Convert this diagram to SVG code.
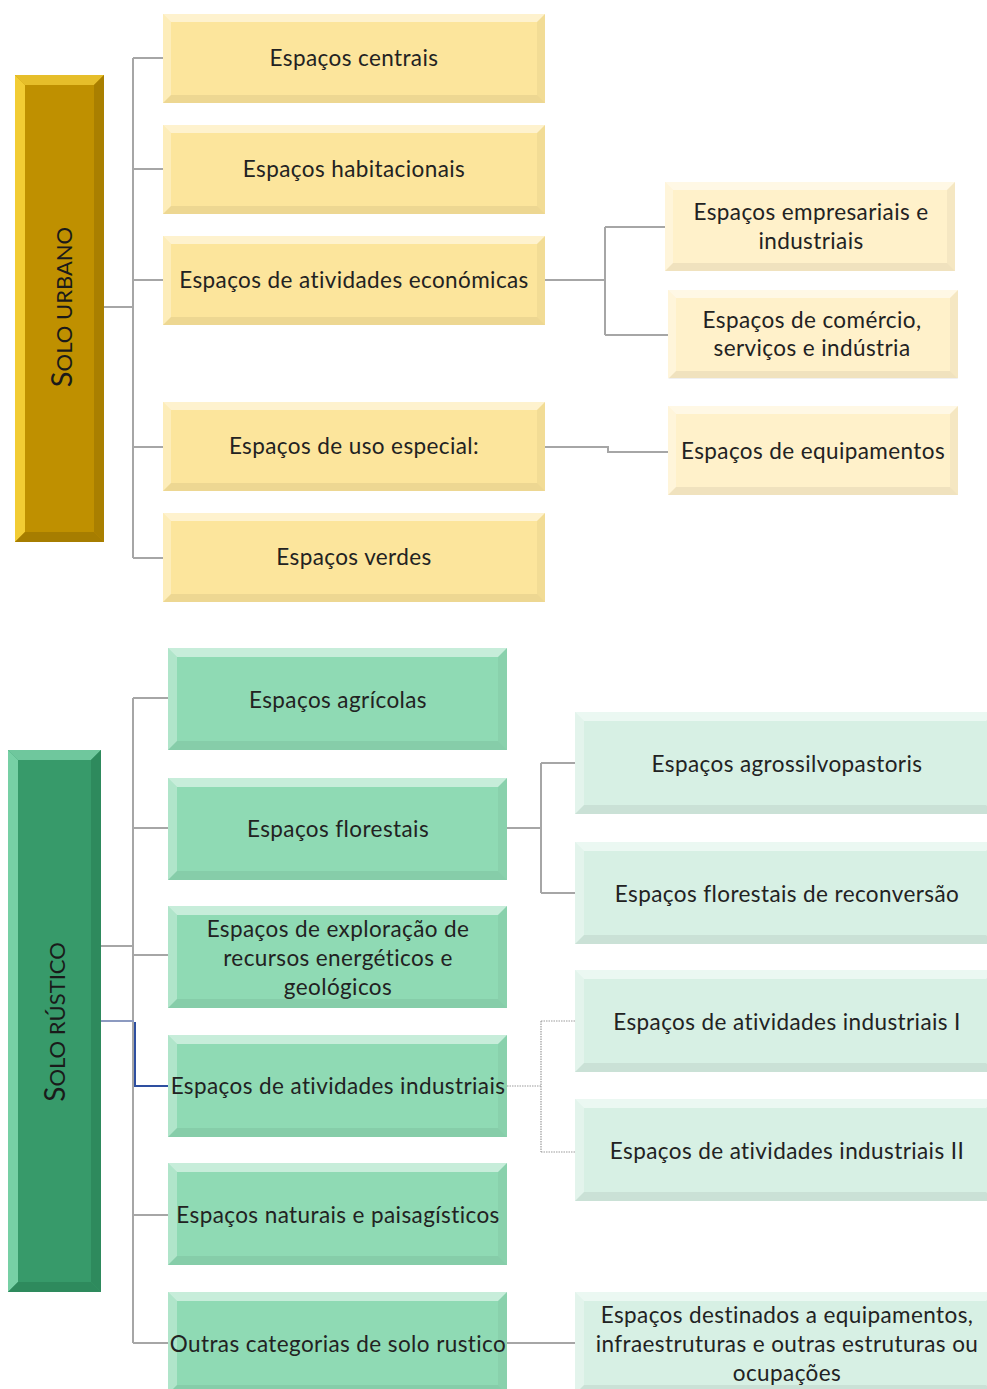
<svg xmlns="http://www.w3.org/2000/svg" xmlns:xlink="http://www.w3.org/1999/xlink" width="987" height="1389" viewBox="0 0 987 1389">
  <style>
    text { font-family: Lato, "Open Sans", "Liberation Sans", sans-serif; font-size: 22.5px; letter-spacing: 0.4px; fill: #222; text-anchor: middle; }
    .solo { font-size: 22px; letter-spacing: 0; fill: #1a1a1a; }
    .fy { fill: #FCE59C; }
    .fpy { fill: #FFF1CA; }
    .fg { fill: #8FDAB4; }
    .fpg { fill: #D7F0E4; }
    .fsu { fill: #BF9000; }
    .fsr { fill: #379A6A; }
    .bt { fill: #ffffff; opacity: 0.5; }
    .bl { fill: #ffffff; opacity: 0.3; }
    .br { fill: #000000; opacity: 0.04; }
    .bb { fill: #000000; opacity: 0.06; }
    .su-t { fill: #E6BE2A; } .su-l { fill: #F2CC34; } .su-r { fill: #A97F00; } .su-b { fill: #A67D00; }
    .sr-t { fill: #6FC79D; } .sr-l { fill: #77D0A5; } .sr-r { fill: #2E8A5D; } .sr-b { fill: #2E8A5D; }
    .c { fill: none; stroke: #A6A6A6; stroke-width: 2; }
    .d { fill: none; stroke: #9C9C9C; stroke-width: 1.2; stroke-dasharray: 1.5 1; }
    .blue { fill: none; stroke: #2E4FA0; stroke-width: 2; }
  </style>
  <defs>
    <!-- bevel overlays for each box size -->
    <g id="bevY">
      <polygon class="bt" points="0,0 382,0 374,8 8,8"/>
      <polygon class="bl" points="0,0 8,8 8,81 0,89"/>
      <polygon class="br" points="382,0 382,89 374,81 374,8"/>
      <polygon class="bb" points="0,89 8,81 374,81 382,89"/>
    </g>
    <g id="bevPY">
      <polygon class="bt" points="0,0 290,0 282,8 8,8"/>
      <polygon class="bl" points="0,0 8,8 8,81 0,89"/>
      <polygon class="br" points="290,0 290,89 282,81 282,8"/>
      <polygon class="bb" points="0,89 8,81 282,81 290,89"/>
    </g>
    <g id="bevG">
      <polygon class="bt" points="0,0 339,0 330,9 9,9"/>
      <polygon class="bl" points="0,0 9,9 9,93 0,102"/>
      <polygon class="br" points="339,0 339,102 330,93 330,9"/>
      <polygon class="bb" points="0,102 9,93 330,93 339,102"/>
    </g>
    <g id="bevPG">
      <polygon class="bt" points="0,0 420,0 411,9 9,9"/>
      <polygon class="bl" points="0,0 9,9 9,93 0,102"/>
      <polygon class="bb" points="0,102 9,93 411,93 420,102"/>
    </g>
  </defs>

  <!-- connectors -->
  <g id="connectors">
    <path class="c" d="M104,307 H133 M133,58 V558 M133,58 H163 M133,169 H163 M133,280 H163 M133,447 H163 M133,558 H163"/>
    <path class="c" d="M545,280 H605 M605,227 V335 M605,227 H665 M605,335 H668"/>
    <path class="c" d="M545,447 H608 V452 H670"/>
    <path class="c" d="M101,946 H133 M133,698 V1343 M133,698 H168 M133,828 H168 M133,955 H168 M133,1215 H168 M133,1343 H168"/>
    <path d="M101,1021 H134" fill="none" stroke="#8C9AC0" stroke-width="2"/>
    <path class="blue" d="M135,1022 V1086 H168"/>
    <path class="c" d="M507,828 H541 M541,763 V893 M541,763 H575 M541,893 H575"/>
    <path class="d" d="M507,1086 H541 M541,1021 V1152 M541,1021 H575 M541,1152 H575"/>
    <path class="c" d="M507,1343 H575"/>
  </g>

  <!-- SOLO URBANO -->
  <g id="solo-urbano" transform="translate(15,75)">
    <rect class="fsu" width="89" height="467"/>
    <polygon class="su-t" points="0,0 89,0 79,10 10,10"/>
    <polygon class="su-l" points="0,0 10,10 10,457 0,467"/>
    <polygon class="su-r" points="89,0 89,467 79,457 79,10"/>
    <polygon class="su-b" points="0,467 10,457 79,457 89,467"/>
    <text class="solo" transform="translate(57,232) rotate(-90)"><tspan font-size="29">S</tspan>OLO URBANO</text>
  </g>

  <g id="n-centrais" transform="translate(163,14)">
    <rect class="fy" width="382" height="89"/><use href="#bevY"/>
    <text x="191" y="52">Espaços centrais</text>
  </g>
  <g id="n-habitacionais" transform="translate(163,125)">
    <rect class="fy" width="382" height="89"/><use href="#bevY"/>
    <text x="191" y="52">Espaços habitacionais</text>
  </g>
  <g id="n-economicas" transform="translate(163,236)">
    <rect class="fy" width="382" height="89"/><use href="#bevY"/>
    <text x="191" y="52">Espaços de atividades económicas</text>
  </g>
  <g id="n-especial" transform="translate(163,402)">
    <rect class="fy" width="382" height="89"/><use href="#bevY"/>
    <text x="191" y="52">Espaços de uso especial:</text>
  </g>
  <g id="n-verdes" transform="translate(163,513)">
    <rect class="fy" width="382" height="89"/><use href="#bevY"/>
    <text x="191" y="52">Espaços verdes</text>
  </g>

  <g id="n-empresariais" transform="translate(665,182)">
    <rect class="fpy" width="290" height="89"/><use href="#bevPY"/>
    <text x="146" y="37.5">Espaços empresariais e</text>
    <text x="146" y="66.5">industriais</text>
  </g>
  <g id="n-comercio" transform="translate(668,290)">
    <rect class="fpy" width="290" height="88"/><use href="#bevPY"/>
    <text x="144" y="37.5">Espaços de comércio,</text>
    <text x="144" y="65.5">serviços e indústria</text>
  </g>
  <g id="n-equipamentos" transform="translate(668,406)">
    <rect class="fpy" width="290" height="89"/><use href="#bevPY"/>
    <text x="145" y="52.5">Espaços de equipamentos</text>
  </g>

  <!-- SOLO RÚSTICO -->
  <g id="solo-rustico" transform="translate(8,750)">
    <rect class="fsr" width="93" height="542"/>
    <polygon class="sr-t" points="0,0 93,0 83,10 10,10"/>
    <polygon class="sr-l" points="0,0 10,10 10,532 0,542"/>
    <polygon class="sr-r" points="93,0 93,542 83,532 83,10"/>
    <polygon class="sr-b" points="0,542 10,532 83,532 93,542"/>
    <text class="solo" transform="translate(57,272) rotate(-90)"><tspan font-size="28">S</tspan>OLO RÚSTICO</text>
  </g>

  <g id="n-agricolas" transform="translate(168,648)">
    <rect class="fg" width="339" height="102"/><use href="#bevG"/>
    <text x="170" y="59.5">Espaços agrícolas</text>
  </g>
  <g id="n-florestais" transform="translate(168,778)">
    <rect class="fg" width="339" height="102"/><use href="#bevG"/>
    <text x="170" y="58.5">Espaços florestais</text>
  </g>
  <g id="n-exploracao" transform="translate(168,906)">
    <rect class="fg" width="339" height="102"/><use href="#bevG"/>
    <text x="170" y="30.5">Espaços de exploração de</text>
    <text x="170" y="59.5">recursos energéticos e</text>
    <text x="170" y="88.5">geológicos</text>
  </g>
  <g id="n-industriais" transform="translate(168,1035)">
    <rect class="fg" width="339" height="102"/><use href="#bevG"/>
    <text x="170" y="58.5">Espaços de atividades industriais</text>
  </g>
  <g id="n-naturais" transform="translate(168,1163)">
    <rect class="fg" width="339" height="102"/><use href="#bevG"/>
    <text x="170" y="59.5">Espaços naturais e paisagísticos</text>
  </g>
  <g id="n-outras" transform="translate(168,1292)">
    <rect class="fg" width="339" height="102"/><use href="#bevG"/>
    <text x="170" y="59.5">Outras categorias de solo rustico</text>
  </g>

  <g id="n-agrossilvopastoris" transform="translate(575,712)">
    <rect class="fpg" width="420" height="102"/><use href="#bevPG"/>
    <text x="212" y="59.5">Espaços agrossilvopastoris</text>
  </g>
  <g id="n-reconversao" transform="translate(575,842)">
    <rect class="fpg" width="420" height="102"/><use href="#bevPG"/>
    <text x="212" y="59.5">Espaços florestais de reconversão</text>
  </g>
  <g id="n-industriais-1" transform="translate(575,970)">
    <rect class="fpg" width="420" height="102"/><use href="#bevPG"/>
    <text x="212" y="59.5">Espaços de atividades industriais I</text>
  </g>
  <g id="n-industriais-2" transform="translate(575,1099)">
    <rect class="fpg" width="420" height="102"/><use href="#bevPG"/>
    <text x="212" y="59.5">Espaços de atividades industriais II</text>
  </g>
  <g id="n-destinados" transform="translate(575,1292)">
    <rect class="fpg" width="420" height="102"/><use href="#bevPG"/>
    <text x="212" y="30.5">Espaços destinados a equipamentos,</text>
    <text x="212" y="59.5">infraestruturas e outras estruturas ou</text>
    <text x="212" y="88.5">ocupações</text>
  </g>
</svg>
